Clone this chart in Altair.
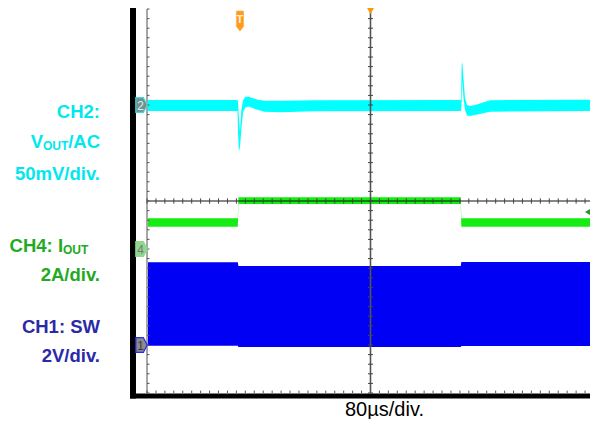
import altair as alt
import pandas as pd

# ---- scope geometry: time in µs (80 µs/div, 10 div), vertical in divisions (8 div)
X_DIVS = [0, 80, 160, 240, 320, 400, 480, 560, 640, 720, 800]
Y_DIVS = [-4, -3, -2, -1, 0, 1, 2, 3, 4]

# ---- CH2: VOUT/AC envelope (divisions)
ch2_t  = [0, 162.0, 163.0, 164.6, 166.4, 169.0, 172.0, 176.0, 182.0, 190.0, 198.0, 210.0, 240.0, 300.0,
          562.0, 563.2, 564.3, 566.4, 569.1, 572.7, 578.1, 587.0, 596.0, 605.0, 614.0, 800.0]
ch2_lo = [1.875, 1.875, 1.40, 1.03, 1.12, 1.50, 1.85, 1.95, 1.97, 1.93, 1.90, 1.86, 1.85, 1.87,
          1.875, 2.10, 2.50, 2.15, 1.90, 1.78, 1.77, 1.79, 1.81, 1.84, 1.86, 1.875]
ch2_hi = [2.104, 2.104, 2.06, 1.70, 1.45, 1.90, 2.10, 2.17, 2.17, 2.14, 2.11, 2.09, 2.09, 2.10,
          2.104, 2.85, 2.89, 2.55, 2.15, 2.00, 1.98, 2.00, 2.03, 2.07, 2.10, 2.11]

# ---- CH4: IOUT envelope (divisions)
ch4_t  = [0, 162.5, 163.6, 561.5, 562.6, 800]
ch4_lo = [-0.535, -0.535, -0.0625, -0.0625, -0.535, -0.535]
ch4_hi = [-0.36, -0.36, 0.077, 0.077, -0.36, -0.36]

# ---- CH1: SW envelope (divisions)
ch1_t  = [0, 162.5, 163.6, 561.5, 562.6, 800]
ch1_lo = [-3.015, -3.015, -3.04, -3.04, -3.02, -3.02]
ch1_hi = [-1.277, -1.277, -1.354, -1.354, -1.27, -1.27]

# minor graticule ticks (1/5 division)
minor_t = [16 * i for i in range(51)]
minor_y = [-4 + 0.2 * i for i in range(41)]

# view is 443 px wide at 44.7 px/div: the last few px of the 10th division fall past the page edge
VIEW_W = 443
xs = alt.Scale(domain=[0, 800 * VIEW_W / 447], nice=False, zero=False)
ys = alt.Scale(domain=[-4, 4], nice=False, zero=False)

def X(f="t", axis=None):
    return alt.X(f"{f}:Q", scale=xs, axis=axis)

def Y(f="y", axis=None):
    return alt.Y(f"{f}:Q", scale=ys, axis=axis)

# graticule via axes (drawn above traces)
grid_layer = alt.Chart(pd.DataFrame({"t": [0], "y": [0]})).mark_point(opacity=0).encode(
    x=X(axis=alt.Axis(values=X_DIVS, grid=True, gridDash=[1.3, 8.3], gridDashOffset=0.65,
                      gridColor="#6f6f6f", gridWidth=1.3, labels=False, ticks=False,
                      domain=False, title=None, zindex=1)),
    y=Y(axis=alt.Axis(values=Y_DIVS, grid=True, gridDash=[1.3, 7.64], gridDashOffset=0.65,
                      gridColor="#6f6f6f", gridWidth=1.3, labels=False, ticks=False,
                      domain=False, title=None, zindex=1)),
)

def band(t, lo, hi, color):
    df = pd.DataFrame({"t": t, "lo": lo, "hi": hi})
    return alt.Chart(df).mark_area(color=color, opacity=1, strokeWidth=0).encode(
        x=X(), y=Y("lo"), y2="hi:Q")

blue = band(ch1_t, ch1_lo, ch1_hi, "#0000f4")
green = band(ch4_t, ch4_lo, ch4_hi, "#14ec14")
cyan = band(ch2_t, ch2_lo, ch2_hi, "#00ffff")

# left edge solid line
left_edge = alt.Chart(pd.DataFrame({"t": [0], "y": [-4], "y2": [4]})).mark_rule(
    color="#a8a8a8", strokeWidth=2).encode(x=X(), y=Y(), y2="y2:Q")

# center cross lines
vcenter = alt.Chart(pd.DataFrame({"t": [400], "y": [-4], "y2": [4]})).mark_rule(
    color="#555555", strokeWidth=1.6).encode(x=X(), y=Y(), y2="y2:Q")
hcenter = alt.Chart(pd.DataFrame({"t": [0], "t2": [800], "y": [0]})).mark_rule(
    color="#111111", strokeWidth=1.2).encode(x=X(), x2="t2:Q", y=Y())

# minor ticks on center lines and left edge
vt = pd.DataFrame({"y": minor_y})
vt["t"] = 395.5
vt["t2"] = 404.5
vticks = alt.Chart(vt).mark_rule(color="#444444", strokeWidth=1).encode(x=X(), x2="t2:Q", y=Y())
ht = pd.DataFrame({"t": minor_t})
ht["y"] = -0.055
ht["y2"] = 0.055
hticks = alt.Chart(ht).mark_rule(color="#444444", strokeWidth=1).encode(x=X(), y=Y(), y2="y2:Q")
lt = pd.DataFrame({"y": minor_y})
lt["t"] = 0
lt["t2"] = 4.5
lticks = alt.Chart(lt).mark_rule(color="#555555", strokeWidth=1).encode(x=X(), x2="t2:Q", y=Y())
bt = pd.DataFrame({"t": minor_t})
bt["y"] = -4
bt["y2"] = -3.95
bticks = alt.Chart(bt).mark_rule(color="#555555", strokeWidth=1).encode(x=X(), y=Y(), y2="y2:Q")

# black scope frame
frame_df = pd.DataFrame({
    "t":  [-30.4, -30.4, 800.2],
    "t2": [-19.7, 808.0, 808.0],
    "y":  [-4.115, -4.115, -4.115],
    "y2": [4.4, -4.01, 4.4],
})
frame = alt.Chart(frame_df).mark_rect(color="#000000").encode(
    x=X(), x2="t2:Q", y=Y(), y2="y2:Q")

# channel ground markers
ARROW = "M-0.77,-1 L0.25,-1 L0.77,0 L0.25,1 L-0.77,1 Z"
def chmark(num, yv, fill, stroke, txt):
    df = pd.DataFrame({"t": [-9.8], "y": [yv], "n": [num]})
    base = alt.Chart(df)
    p = base.mark_point(shape=ARROW, size=220, filled=True, fill=fill, stroke=stroke,
                        strokeWidth=1.2, opacity=1).encode(x=X(), y=Y())
    tx = base.mark_text(font="Liberation Sans", fontSize=12, color=txt, dx=-1, dy=0.5,
                        baseline="middle", align="center").encode(x=X(), y=Y(), text="n:N")
    return [p, tx]

marks = []
marks += chmark("2", 2.0, "#7b8b8b", "#33e0e0", "#c0ffff")
marks += chmark("4", -1.0, "#90d890", "#90d890", "#777777")
marks += chmark("1", -3.0, "#8a8a8a", "#2a2af0", "#3a3a3a")

# trigger marker
trig_df = pd.DataFrame({"t": [166.4], "y": [3.75], "s": ["T"]})
trig = alt.Chart(trig_df).mark_point(
    shape="M-0.36,-1 L0.36,-1 L0.36,0.55 L0,1 L-0.36,0.55 Z", size=400, filled=True,
    fill="#ff9a1a", stroke="#ffb050", strokeWidth=0.8, opacity=1).encode(x=X(), y=Y())
trig_t = alt.Chart(trig_df).mark_text(font="Liberation Sans", fontSize=11, fontWeight="bold",
                                      color="#fff3e0", dy=-1, baseline="middle").encode(
    x=X(), y=Y(), text="s:N")
top_tri = alt.Chart(pd.DataFrame({"t": [400], "y": [3.96]})).mark_point(
    shape="triangle-down", size=50, filled=True, color="#ff9900", opacity=1).encode(x=X(), y=Y())
right_mk = alt.Chart(pd.DataFrame({"t": [789], "y": [-0.23]})).mark_point(
    shape="triangle-left", size=45, filled=True, color="#2f8f2f", opacity=1).encode(x=X(), y=Y())

# text labels
def labels(rows, color, size, weight, align):
    df = pd.DataFrame(rows, columns=["s", "t", "y"])
    return alt.Chart(df).mark_text(font="Liberation Sans", fontSize=size, fontWeight=weight,
                                   color=color, align=align, baseline="alphabetic").encode(
        x=X(), y=Y(), text="s:N")

CYAN_T = "#00e8ee"
GREEN_T = "#22aa22"
BLUE_T = "#2a2aa6"
texts = [
    labels([["CH2:", -84.1, 1.729], ["V", -186.1, 1.104], ["/AC", -84.1, 1.104],
            ["50mV/div.", -84.1, 0.4375]], CYAN_T, 18.5, "bold", "right"),
    labels([["OUT", -186.1, 1.0625]], CYAN_T, 12, "bold", "left"),
    labels([["CH4: I", -150.3, -1.069]], GREEN_T, 18.5, "bold", "right"),
    labels([["2A/div.", -84.1, -1.667]], GREEN_T, 18.5, "bold", "right"),
    labels([["OUT", -150.3, -1.104]], GREEN_T, 12, "bold", "left"),
    labels([["CH1: SW", -84.1, -2.75], ["2V/div.", -84.1, -3.354]], BLUE_T, 18.5, "bold", "right"),
    labels([["80µs/div.", 425, -4.48]], "#000000", 20, "normal", "center"),
]

chart = alt.layer(
    grid_layer, frame, blue, green, cyan, left_edge, vcenter, hcenter,
    vticks, hticks, lticks, bticks, *marks, trig, trig_t, top_tri, right_mk, *texts
).properties(
    width=VIEW_W, height=384,
    padding={"left": 139, "top": 1, "right": 0, "bottom": 26},
    autosize=alt.AutoSizeParams(type="none"),
    background="white",
).configure_view(stroke=None)

chart.save("out.html", embed_options={"renderer": "svg", "actions": False})
